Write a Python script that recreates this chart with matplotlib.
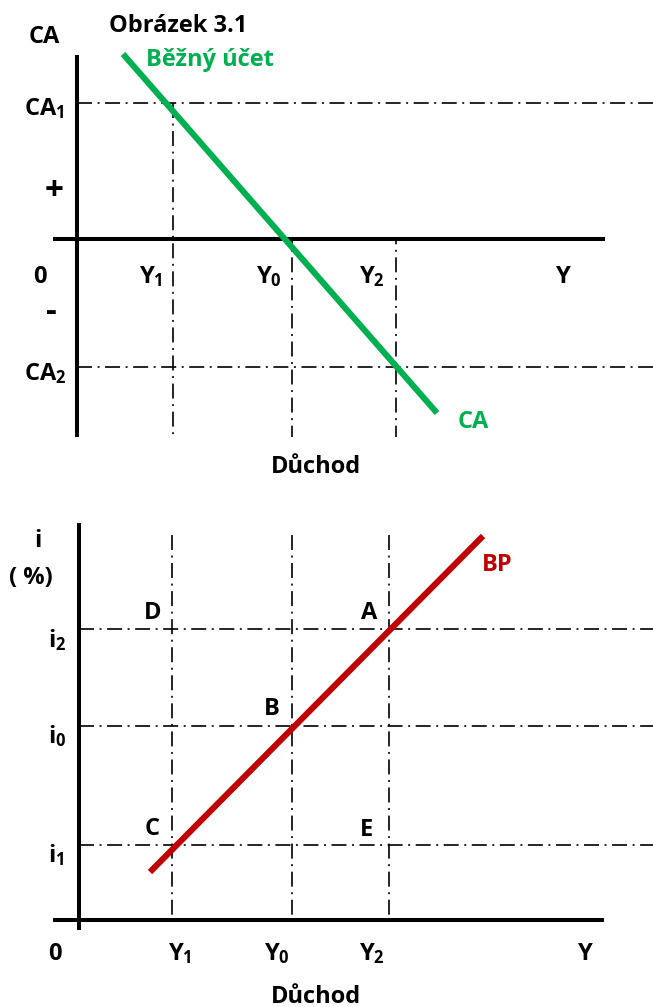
import matplotlib
matplotlib.use("Agg")
import matplotlib.pyplot as plt

WEIGHT = 'bold'
FONT = 'Open Sans'
plt.rcParams['font.family'] = [FONT, 'DejaVu Sans']
plt.rcParams['font.weight'] = WEIGHT
plt.rcParams['mathtext.fontset'] = 'custom'
plt.rcParams['mathtext.rm'] = FONT + ':bold'
plt.rcParams['mathtext.it'] = FONT + ':bold'
plt.rcParams['mathtext.bf'] = FONT + ':bold'
plt.rcParams['mathtext.sf'] = FONT + ':bold'
plt.rcParams['lines.scale_dashes'] = False

# ---------------- data (top panel: current account) ----------------
ca_income_levels = {"Y1": 0.96, "Y0": 2.15, "Y2": 3.19}
ca_levels = {"CA1": 1.36, "CA2": -1.28}
ca_line_x = [0.46, 3.60]
ca_line_y = [1.85, -1.74]
top_yaxis_y = [1.84, -1.98]
top_xaxis_x = [-0.24, 5.28]

# ---------------- data (bottom panel: BP) ----------------
bp_income_levels = {"Y1": 0.93, "Y0": 2.13, "Y2": 3.10}
bp_rates = {"i2": 2.91, "i0": 1.94, "i1": 0.75}
bp_line_x = [0.71, 4.04]
bp_line_y = [0.48, 3.84]
bot_yaxis_y = [3.97, -0.10]
bot_xaxis_x = [-0.26, 5.25]
bot_vline_top = 3.85

GREEN = '#00B050'
RED = '#C00000'
DASH = (0, (10.8, 4.0, 1.4, 4.0))
FS = 17

W, H = 653, 1007
fig = plt.figure(figsize=(W / 100, H / 100), dpi=100)

# top axes: pixel rows 0..480, origin at (77, 239), 100 px per unit
ax1 = fig.add_axes([0, (H - 480) / H, 1, 480 / H])
ax1.set_xlim(-0.77, (W - 77) / 100)
ax1.set_ylim(-2.41, 2.39)
ax1.axis('off')

# bottom axes: pixel rows 480..1007, origin at (79, 920)
ax2 = fig.add_axes([0, 0, 1, (H - 480) / H])
ax2.set_xlim(-0.79, (W - 79) / 100)
ax2.set_ylim(-0.87, 4.40)
ax2.axis('off')

# ---- top panel ----
xr1 = ax1.get_xlim()[1]
for k, v in ca_levels.items():
    ax1.plot([0, xr1], [v, v], color='black', lw=1.2, linestyle=DASH)
ax1.plot([ca_income_levels["Y1"]] * 2, [ca_levels["CA1"], top_yaxis_y[1]],
         color='black', lw=1.2, linestyle=DASH)
for k in ("Y0", "Y2"):
    ax1.plot([ca_income_levels[k]] * 2, [0, top_yaxis_y[1]],
             color='black', lw=1.2, linestyle=(7, (10.8, 4.0, 1.4, 4.0)))
ax1.plot([0, 0], top_yaxis_y, color='black', lw=2.9, solid_capstyle='butt')
ax1.plot(top_xaxis_x, [0, 0], color='black', lw=2.9, solid_capstyle='butt')
ax1.plot(ca_line_x, ca_line_y, color=GREEN, lw=4.4, solid_capstyle='butt')

def px1(x, y):
    return ((x - 77) / 100, (239 - y) / 100)

def px2(x, y):
    return ((x - 79) / 100, (920 - y) / 100)

def t1(x, y, s, ha='center', color='black', fs=FS):
    ax1.text(*px1(x, y), s, ha=ha, va='baseline', fontsize=fs, color=color,
             fontweight=WEIGHT)

def t2(x, y, s, ha='center', color='black', fs=FS):
    ax2.text(*px2(x, y), s, ha=ha, va='baseline', fontsize=fs, color=color,
             fontweight=WEIGHT)

t1(44, 43, "CA")
t1(178, 32, "Obrázek 3.1")
t1(210, 66, "Běžný účet", color=GREEN)
t1(24, 115, "CA$_1$", ha='left')
t1(54, 200, "+", fs=24)
t1(40, 283, "0")
t1(139, 283, "Y$_1$", ha='left')
t1(256, 283, "Y$_0$", ha='left')
t1(359, 283, "Y$_2$", ha='left')
t1(563, 283, "Y")
t1(51, 321, "-", fs=24)
t1(24, 380, "CA$_2$", ha='left')
t1(473, 428, "CA", color=GREEN)
t1(316, 473, "Důchod")

# ---- bottom panel ----
xr2 = ax2.get_xlim()[1]
for k, v in bp_rates.items():
    ax2.plot([0, xr2], [v, v], color='black', lw=1.2, linestyle=DASH)
for k, v in bp_income_levels.items():
    ax2.plot([v, v], [bot_vline_top, 0], color='black', lw=1.2, linestyle=DASH)
ax2.plot([0, 0], bot_yaxis_y, color='black', lw=2.9, solid_capstyle='butt')
ax2.plot(bot_xaxis_x, [0, 0], color='black', lw=2.9, solid_capstyle='butt')
ax2.plot(bp_line_x, bp_line_y, color=RED, lw=4.4, solid_capstyle='butt')

t2(38, 547, "i")
t2(31, 584, "( %)")
t2(497, 571, "BP", color=RED)
t2(153, 619, "D")
t2(369, 619, "A")
t2(48, 647, "i$_2$", ha='left')
t2(272, 715, "B")
t2(48, 743, "i$_0$", ha='left')
t2(152, 835, "C")
t2(367, 836, "E")
t2(48, 862, "i$_1$", ha='left')
t2(55, 960, "0")
t2(168, 960, "Y$_1$", ha='left')
t2(264, 960, "Y$_0$", ha='left')
t2(359, 960, "Y$_2$", ha='left')
t2(585, 960, "Y")
t2(316, 1003, "Důchod")

fig.savefig("out.png", dpi=100)
